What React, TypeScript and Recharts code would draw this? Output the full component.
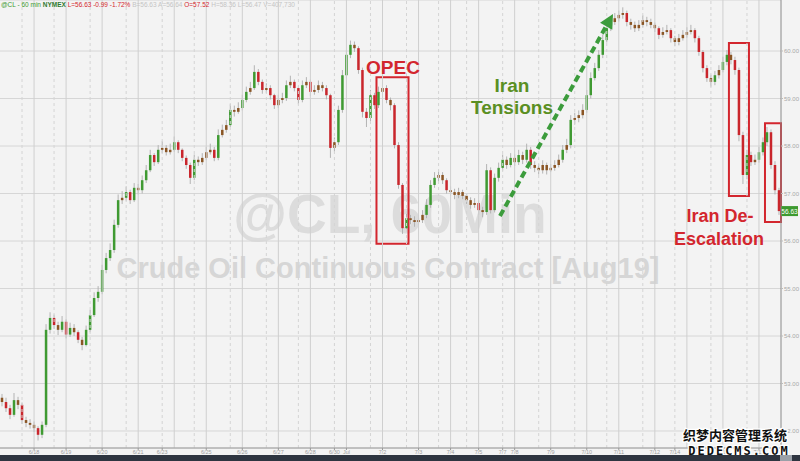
import { ComposedChart, Bar, XAxis, YAxis, CartesianGrid, ReferenceLine, ReferenceArea } from "recharts";

// hourly-ish CL candles (open = previous close)
const firstOpen = 52.7;

const closes = [
  52.61, 52.48, 52.34, 52.65, 52.55, 52.23, 52.17, 52.13, 52.06, 51.92,
  52.13, 54.13, 54.38, 54.23, 54.13, 54.3, 54.03, 54.17, 54.08, 53.92,
  53.81, 54.13, 54.44, 54.8, 54.93, 55.39, 55.64, 55.81, 56.34, 56.86,
  56.91, 57.03, 56.86, 57.12, 57.07, 57.28, 57.49, 57.81, 57.66, 57.92,
  57.96, 57.87, 57.92, 58.08, 57.92, 57.75, 57.6, 57.33, 57.71, 57.66,
  57.75, 57.87, 57.92, 57.75, 58.23, 58.34, 58.44, 58.76, 58.72, 58.8,
  58.97, 59.14, 59.22, 59.56, 59.35, 59.18, 59.22, 59.07, 58.86, 58.97,
  59.01, 59.28, 59.35, 59.22, 58.97, 59.28, 59.35, 59.14, 59.18, 59.28,
  59.22, 59.07, 57.96, 58.08, 58.76, 59.49, 59.92, 60.13, 60.06, 59.6,
  58.72, 58.59, 59.07, 58.86, 59.14, 59.22, 58.97, 58.86, 58.02, 57.18,
  56.27, 56.48, 56.44, 56.4, 56.44, 56.55, 56.76, 57.18, 57.33, 57.39,
  57.28, 57.07, 57.03, 56.97, 57.03, 56.95, 56.86, 56.76, 56.8, 56.65,
  56.61, 57.49, 56.65, 57.33, 57.54, 57.71, 57.6, 57.75, 57.66, 57.81,
  57.71, 57.92, 57.6, 57.54, 57.49, 57.6, 57.49, 57.54, 57.6, 57.71,
  57.92, 58.02, 58.55, 58.59, 58.65, 58.76, 59.07, 59.43, 59.64, 59.92,
  60.23, 60.48, 60.61, 60.69, 60.76, 60.8, 60.61, 60.55, 60.48, 60.55,
  60.65, 60.61, 60.55, 60.48, 60.34, 60.4, 60.44, 60.27, 60.19, 60.27,
  60.34, 60.4, 60.44, 60.27, 59.98, 59.64, 59.43, 59.35, 59.49, 59.6,
  59.77, 59.92, 59.81, 59.6, 58.23, 57.39, 57.81, 57.66, 57.71, 57.87,
  58.08, 58.29, 57.6, 57.07, 56.63,
];

const highs = [
  52.78, 52.7, 52.55, 52.8, 52.72, 52.6, 52.3, 52.25, 52.2, 52.1,
  52.2, 54.25, 54.5, 54.45, 54.3, 54.42, 54.35, 54.28, 54.25, 54.12,
  53.98, 54.22, 54.55, 54.92, 55.05, 55.5, 55.75, 55.95, 56.45, 56.98,
  57.05, 57.15, 57.08, 57.22, 57.2, 57.38, 57.6, 57.92, 57.85, 58.02,
  58.1, 58.02, 58.05, 58.2, 58.12, 57.95, 57.8, 57.65, 57.82, 57.78,
  57.85, 57.98, 58.05, 57.98, 58.35, 58.45, 58.55, 58.88, 58.85, 58.92,
  59.08, 59.25, 59.35, 59.7, 59.62, 59.4, 59.32, 59.28, 59.1, 59.08,
  59.12, 59.38, 59.48, 59.4, 59.25, 59.38, 59.45, 59.4, 59.28, 59.38,
  59.35, 59.28, 59.1, 58.18, 58.85, 59.6, 60.02, 60.22, 60.2, 60.1,
  59.65, 58.8, 59.18, 59.12, 59.25, 59.35, 59.28, 59.02, 58.9, 58.08,
  57.22, 56.6, 56.55, 56.52, 56.55, 56.65, 56.88, 57.28, 57.45, 57.5,
  57.45, 57.32, 57.15, 57.1, 57.12, 57.08, 57.0, 56.92, 56.9, 56.85,
  56.72, 57.62, 57.55, 57.42, 57.65, 57.82, 57.78, 57.85, 57.82, 57.92,
  57.88, 58.05, 57.98, 57.68, 57.62, 57.7, 57.65, 57.62, 57.7, 57.82,
  58.02, 58.15, 58.65, 58.7, 58.75, 58.88, 59.18, 59.55, 59.75, 60.02,
  60.35, 60.58, 60.72, 60.8, 60.85, 60.92, 60.85, 60.68, 60.62, 60.65,
  60.75, 60.72, 60.68, 60.6, 60.52, 60.5, 60.55, 60.48, 60.32, 60.36,
  60.44, 60.5, 60.55, 60.48, 60.32, 60.02, 59.7, 59.5, 59.58, 59.7,
  59.88, 60.02, 59.98, 59.88, 59.65, 58.3, 57.92, 57.88, 57.82, 57.98,
  58.18, 58.4, 58.35, 57.68, 57.12,
];

const lows = [
  52.52, 52.4, 52.25, 52.3, 52.46, 52.15, 52.08, 52.05, 51.98, 51.8,
  51.85, 52.08, 54.05, 54.15, 54.02, 54.08, 53.95, 53.98, 54.0, 53.85,
  53.7, 53.78, 54.08, 54.4, 54.72, 54.88, 55.32, 55.58, 55.75, 56.28,
  56.78, 56.85, 56.78, 56.82, 56.98, 57.0, 57.22, 57.45, 57.58, 57.62,
  57.85, 57.8, 57.82, 57.88, 57.85, 57.68, 57.52, 57.2, 57.28, 57.58,
  57.6, 57.7, 57.82, 57.68, 57.7, 58.18, 58.28, 58.4, 58.62, 58.68,
  58.75, 58.92, 59.08, 59.18, 59.28, 59.1, 59.12, 58.98, 58.78, 58.8,
  58.9, 58.95, 59.22, 59.15, 58.88, 58.92, 59.22, 59.05, 59.08, 59.12,
  59.15, 58.98, 57.75, 57.88, 58.02, 58.7, 59.42, 59.85, 59.98, 59.52,
  58.6, 58.4, 58.52, 58.78, 58.8, 59.08, 58.9, 58.75, 57.95, 57.1,
  56.15, 56.2, 56.35, 56.3, 56.35, 56.38, 56.48, 56.7, 57.12, 57.25,
  57.2, 57.0, 56.95, 56.88, 56.9, 56.88, 56.78, 56.68, 56.7, 56.55,
  56.5, 56.55, 56.58, 56.6, 57.25, 57.48, 57.52, 57.55, 57.58, 57.6,
  57.62, 57.65, 57.52, 57.45, 57.4, 57.42, 57.4, 57.45, 57.48, 57.55,
  57.65, 57.85, 57.95, 58.45, 58.5, 58.58, 58.7, 59.0, 59.38, 59.58,
  59.85, 60.18, 60.42, 60.55, 60.62, 60.68, 60.52, 60.45, 60.4, 60.42,
  60.5, 60.52, 60.48, 60.4, 60.25, 60.28, 60.35, 60.18, 60.1, 60.12,
  60.22, 60.28, 60.35, 60.18, 59.9, 59.55, 59.35, 59.25, 59.28, 59.42,
  59.55, 59.7, 59.72, 59.5, 58.1, 57.2, 57.3, 57.58, 57.6, 57.65,
  57.8, 58.0, 57.52, 56.98, 56.55,
];

// midnight day lines, 6pm session-open lines, and the labelled ticks
const dayLines = [8, 16, 25, 34, 43, 51, 60, 69, 77, 86, 95, 104, 112, 119, 128, 137, 146, 154, 163, 171, 180, 189];
const sessionLines = [5, 13, 22, 31, 40, 48, 57, 66, 74, 83, 92, 101, 109, 116, 125, 134, 143, 151, 160, 168, 177, 186];
const labelTicks = [8, 16, 25, 34, 40, 51, 60, 69, 77, 83, 86, 95, 104, 112, 119, 125, 128, 137, 146, 154, 163, 168, 180, 189];
const labelText = ["6/18", "6/19", "6/20", "6/21", "6/23", "6/25", "6/26", "6/27", "6/28", "6/30", "Jul", "7/2", "7/3", "7/4", "7/5", "7/7", "7/8", "7/9", "7/10", "7/11", "7/12", "7/14", "7/16", "7/17"];

const priceTicks = [52, 53, 54, 55, 56, 57, 58, 59, 60];
const lastPrice = 56.63;

const rows = closes.map((c, i) => ({
  i,
  o: i === 0 ? firstOpen : closes[i - 1],
  c,
  h: highs[i],
  l: lows[i],
  range: [lows[i], highs[i]],
}));

const RED = "#d3262e";
const GREEN_TXT = "#5a8f22";
const FONT = "'Liberation Sans', Arial, sans-serif";

function Candle(props: any) {
  const { x, y, width, height, payload } = props;
  if (!payload) return null;
  const { o, c, h, l } = payload;
  const top = Math.min(y, y + height);
  const span = Math.abs(height);
  const k = span / (h - l || 1);
  const yo = top + (h - o) * k;
  const yc = top + (h - c) * k;
  const cx = x + width / 2;
  const bodyTop = Math.min(yo, yc);
  const bodyH = Math.max(Math.abs(yc - yo), 1);
  const up = c >= o;
  const small = Math.abs(c - o) < 0.12;
  const fill = small ? "#8a5524" : up ? "#3f9a32" : "#c9262c";
  return (
    <g>
      <line x1={cx} x2={cx} y1={top} y2={top + span} stroke="#b3b3b3" strokeWidth={1} />
      <rect x={cx - 1.25} y={bodyTop} width={2.5} height={bodyH} fill={fill} />
    </g>
  );
}

function DateTick(props: any) {
  const { x, y, payload } = props;
  const label = labelText[labelTicks.indexOf(payload.value)] ?? "";
  return (
    <text x={x} y={y + 3.5} textAnchor="middle" fontSize={5.5} fill="#a0a0a0" fontFamily={FONT}>
      {label}
    </text>
  );
}

function LastTag(props: any) {
  const vb = props.viewBox;
  if (!vb) return null;
  const x = vb.x + vb.width;
  return (
    <g>
      <rect x={x} y={vb.y - 5} width={17} height={10} fill="#3d9a2f" />
      <text x={x + 8.5} y={vb.y + 2.5} textAnchor="middle" fontSize={6.5} fill="#fff" fontFamily={FONT}>
        {lastPrice.toFixed(2)}
      </text>
    </g>
  );
}

function Arrow() {
  const x1 = 500, y1 = 216, x2 = 613, y2 = 14;
  const len = Math.hypot(x2 - x1, y2 - y1);
  const ux = (x2 - x1) / len, uy = (y2 - y1) / len;
  const bx = x2 - ux * 14, by = y2 - uy * 14;
  const px = -uy, py = ux;
  return (
    <g>
      <line x1={x1} y1={y1} x2={bx} y2={by} stroke="#3c9c3c" strokeWidth={4} strokeDasharray="7 4" />
      <polygon points={`${x2},${y2} ${bx + px * 7},${by + py * 7} ${bx - px * 7},${by - py * 7}`} fill="#3c9c3c" />
    </g>
  );
}

export default function App() {
  return (
    <div style={{ position: "fixed", left: 0, top: 0, width: 800, height: 461, background: "#f3f3f3", overflow: "hidden", fontFamily: FONT }}>
      <svg style={{ position: "absolute", left: 0, top: 0 }} width={800} height={461} fontFamily={FONT}>
        <text x={390} y={233} textAnchor="middle" fontSize={55} fontWeight="bold" fill="#dcdcdc">@CL, 60Min</text>
        <text x={388} y={278} textAnchor="middle" fontSize={29} fontWeight="bold" fill="#d6d6d6">Crude Oil Continuous Contract [Aug19]</text>
      </svg>

      <div style={{ position: "absolute", left: 0, top: 0 }}>
        <ComposedChart width={800} height={455} data={rows} margin={{ top: 0, right: 0, left: 0, bottom: 0 }} barCategoryGap={0}>
          <CartesianGrid vertical={false} stroke="#d6d6d6" />
          {sessionLines.map((v) => (
            <ReferenceLine key={"s" + v} x={v} stroke="#d4d4d4" strokeDasharray="3 3" />
          ))}
          {dayLines.map((v) => (
            <ReferenceLine key={"d" + v} x={v} stroke="#cfcfcf" />
          ))}
          <XAxis
            dataKey="i"
            type="category"
            ticks={labelTicks}
            interval={0}
            height={7}
            tickSize={2}
            tickMargin={0}
            tick={<DateTick />}
            axisLine={{ stroke: "#9a9a9a" }}
            tickLine={{ stroke: "#9a9a9a" }}
          />
          <YAxis
            orientation="right"
            domain={[51.642, 61.074]}
            ticks={priceTicks}
            allowDataOverflow
            width={19}
            tickFormatter={(v: number) => v.toFixed(2)}
            tick={{ fontSize: 6, fill: "#a8a8a8", fontFamily: FONT }}
            tickSize={2}
            tickMargin={1}
            axisLine={{ stroke: "#8a8a8a" }}
            tickLine={{ stroke: "#bbbbbb" }}
          />
          <Bar dataKey="range" shape={<Candle />} isAnimationActive={false} />
          <ReferenceArea x1={94} x2={101} y1={55.94} y2={59.45} stroke={RED} strokeWidth={2} fill="none" fillOpacity={0} ifOverflow="visible" />
          <ReferenceArea x1={182} x2={186} y1={56.95} y2={60.17} stroke={RED} strokeWidth={2} fill="none" fillOpacity={0} ifOverflow="visible" />
          <ReferenceArea x1={191} x2={194} y1={56.4} y2={58.48} stroke={RED} strokeWidth={2} fill="none" fillOpacity={0} ifOverflow="visible" />
          <ReferenceLine y={lastPrice} stroke="none" label={<LastTag />} ifOverflow="visible" />
        </ComposedChart>
      </div>

      <svg style={{ position: "absolute", left: 0, top: 0, pointerEvents: "none" }} width={800} height={461} fontFamily={FONT}>
        <text x={1} y={7} fontSize={6.5}>
          <tspan fill="#3d9a2f">@CL - 60 min </tspan>
          <tspan fill="#2f7a2f" fontWeight="bold">NYMEX </tspan>
          <tspan fill={RED}>L=56.63  -0.99  -1.72%  </tspan>
          <tspan fill="#c4c4c4">B=56.63  A=56.64  </tspan>
          <tspan fill={RED}>O=57.52  </tspan>
          <tspan fill="#c4c4c4">H=58.36  L=56.47  V=407,730</tspan>
        </text>
        <text x={393} y={74} textAnchor="middle" fontSize={19} fontWeight="bold" fill={RED}>OPEC</text>
        <text x={512} y={92} textAnchor="middle" fontSize={19} fontWeight="bold" fill={GREEN_TXT}>Iran</text>
        <text x={512} y={114} textAnchor="middle" fontSize={19} fontWeight="bold" fill={GREEN_TXT}>Tensions</text>
        <Arrow />
        <text x={720} y={222} textAnchor="middle" fontSize={18} fontWeight="bold" fill={RED}>Iran De-</text>
        <text x={719} y={245} textAnchor="middle" fontSize={18} fontWeight="bold" fill={RED}>Escalation</text>
        <g fontWeight="bold" stroke="#fff" strokeWidth={2.5} paintOrder="stroke" fill="#111">
          <text x={735} y={440} textAnchor="middle" fontSize={13} fontFamily="'Noto Sans CJK SC', sans-serif">织梦内容管理系统</text>
          <text x={739} y={455} textAnchor="middle" fontSize={12} letterSpacing={2} fontFamily="'DejaVu Sans Mono', monospace">DEDECMS.COM</text>
        </g>
      </svg>

      <div style={{ position: "absolute", left: 0, top: 455, width: 800, height: 6, background: "#2e3540" }} />
      <div style={{ position: "absolute", left: 780, top: 455, width: 12, height: 6, background: "#9aa0a8" }} />
    </div>
  );
}
